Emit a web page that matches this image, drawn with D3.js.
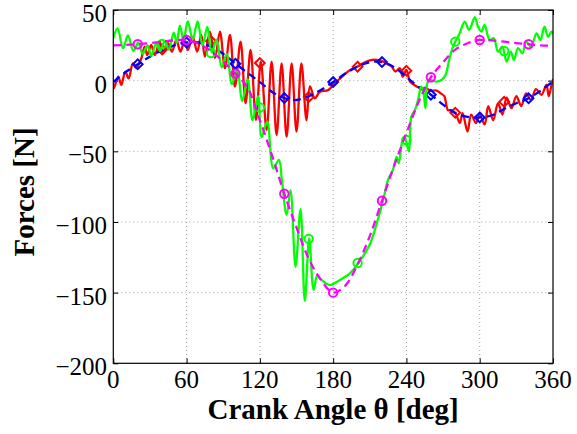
<!DOCTYPE html>
<html><head><meta charset="utf-8">
<script src="https://cdn.jsdelivr.net/npm/d3@7/dist/d3.min.js"></script>
<style>
html,body{margin:0;padding:0;background:#fff;}
svg{display:block;font-family:"Liberation Serif","Times New Roman",serif;}
</style></head>
<body>
<svg id="chart" width="577" height="434"></svg>
<script>
// ---------- data ----------
const xTicks = [0, 60, 120, 180, 240, 300, 360];
const yTicks = [-200, -150, -100, -50, 0, 50];
const xLabel = "Crank Angle \u03b8 [deg]";
const yLabel = "Forces [N]";

// measured force 1 (red, oscillating)
const redX = [0,0.5,4,6.6,9.8,12.6,16,18.8,23,25.7,27.8,31,34,38,40.7,44.8,48,51.6,55,58.4,61,65,68.7,72,75,79.1,83.2,87.3,91.4,95.5,99.6,104.2,108.3,112.4,116.8,120.8,125.5,129.6,133.7,137.8,141.9,146,150,154,158.2,161,165,169,176,180,185,190,195,200,206,212,217,221,225,228,231,234.6,237,240,243,248,252,256,260,264.6,268,271,274,277,280,283.7,286,290,293,297,300,304,307,311,315,318.6,322,326,330,334,338,342,346,350.5,354.6,356.6,359.7,360];
const redY = [-4,-5.4,2.8,-3,6.4,1.6,12.3,8.8,15.9,24,18,25.3,18,27.6,19.4,26.5,20.5,28.8,20.5,28.8,21.7,31,20.5,32.4,17,34.7,15.9,34.7,8.8,32.4,-4.2,27.6,-16,21.7,-27.8,13.5,-35,13.5,-38.5,12.3,-39.7,12.3,-36,12.3,-28,-4,-12.5,-8,-6.6,-3,1,5,8,10,13,14.7,14.5,13.5,11.5,9.9,6.5,8.8,2.8,7.6,-0.7,-4,-5.5,-5.4,-7,-7,-9,-11,-20.8,-21,-22.7,-30,-23,-36,-24,-30,-24,-31,-18,-28,-16,-24,-12,-19.5,-11,-18,-9,-13.7,-6,-10,-3,-11,0.5,0];
const redMarkX = [40, 80, 120, 160, 200, 240, 280, 320];
const redMarkY = [22, 28, 12.5, -11.6, 9.9, 7, -22.7, -15];

// model force 1 (blue, dashed)
const blueX = [0,10,20,30,40,50,60,70,80,90,100,110,120,130,140,150,160,170,180,190,200,210,220,230,240,250,260,270,280,290,300,310,320,330,340,350,360];
const blueY = [-1,6,11.6,17,21.5,25,27,27,24,19,12,5.5,-1,-8,-12.3,-13.7,-11,-6.6,-1,5,10,13,13.2,9.5,2.5,-4.5,-10,-17,-23,-25.7,-26,-24.5,-20,-16,-12.5,-7,-0.5];

// measured force 2 (green, oscillating)
const greenX = [0,3.5,8,12,16.5,20.5,24,28,31,35,38.5,42,45.5,49.5,52,54.5,57.5,61,65,69,73,77,80.5,84.6,88.7,93,97,101.5,105.5,110,114,118.5,121.5,126,131,135.6,138,141.9,145.1,149.2,153.3,156.8,160.4,164,167,170.5,177.3,182.8,193.7,200.7,210,215,221,225,229,232,233.7,236.8,238.5,242,244,247,249.5,252,253.6,255.6,257,259,264.6,268.7,272,275,277.7,280,283.6,287.7,291.3,296,298.6,301.4,304,308,311.5,315,318.5,322,325.4,328,331.4,335,338,342,346.5,349.7,353,356,358.7,360];
const greenY = [30,37,23,32,21,27,19,25,17.5,26,21,28,22,34,27,39,29,42,29,42,25,38,20,29,9.5,19,-2.5,7.6,-14.5,1,-28,-11,-40,-29,-62,-56,-70,-95,-77.4,-131.7,-91,-156,-111.6,-148,-138,-141,-144.7,-142.4,-136.4,-129,-116,-103,-84.5,-70,-63,-54,-58.5,-42,-40,-50,-25.5,-20.8,-13.7,-4.2,-6.6,-19.5,-1.9,0.5,-0.7,0.5,4,14.7,23,27.6,33.5,41.8,35.9,44.9,38.2,34.7,39.4,28.8,30,20.5,24,13.5,20.5,14.7,23,19.4,27.6,24,33.5,28.8,38.2,31,34.7,33];
const greenMarkX = [40, 80, 120, 160, 200, 240, 280, 320];
const greenMarkY = [26, 19.5, -19, -112, -129, -42, 27.6, 21];

// model force 2 (magenta, dashed)
const magX = [0,10,20,30,40,50,60,70,80,90,100,110,120,130,140,150,160,170,180,190,200,210,220,230,240,250,260,270,280,290,300,310,320,330,340,350,360];
const magY = [25,25.3,25.8,26.5,27.6,28.5,28.8,26,21,13.5,5,-5,-28,-53,-80,-104,-126,-141,-150,-145,-130,-110,-85,-60,-37,-15,2.4,13,22,26.5,28.8,28.5,27.6,26.5,25.8,25,24.8];

const markAngles = [20, 60, 100, 140, 180, 220, 260, 300, 340];

// ---------- layout ----------
const L = 113.3, R = 553, T = 10, B = 363.3;
const svg = d3.select("#chart");
const x = d3.scaleLinear().domain([0, 360]).range([L, R]);
const y = d3.scaleLinear().domain([-200, 50]).range([B, T]);

// grid
const grid = svg.append("g").attr("stroke", "#a0a0a0").attr("stroke-width", 1).attr("stroke-dasharray", "1,3");
xTicks.slice(1, -1).forEach(v => grid.append("line").attr("x1", x(v)).attr("x2", x(v)).attr("y1", T).attr("y2", B));
yTicks.slice(1, -1).forEach(v => grid.append("line").attr("x1", L).attr("x2", R).attr("y1", y(v)).attr("y2", y(v)));

// axes (inward ticks, box)
const tk = 5;
svg.append("g").attr("transform", `translate(0,${B})`)
  .call(d3.axisBottom(x).tickValues(xTicks).tickSizeInner(-tk).tickSizeOuter(0).tickFormat(""))
  .call(g => g.select(".domain").remove());
svg.append("g").attr("transform", `translate(0,${T})`)
  .call(d3.axisTop(x).tickValues(xTicks).tickSizeInner(-tk).tickSizeOuter(0).tickFormat(""))
  .call(g => g.select(".domain").remove());
svg.append("g").attr("transform", `translate(${L},0)`)
  .call(d3.axisLeft(y).tickValues(yTicks).tickSizeInner(-tk).tickSizeOuter(0).tickFormat(""))
  .call(g => g.select(".domain").remove());
svg.append("g").attr("transform", `translate(${R},0)`)
  .call(d3.axisRight(y).tickValues(yTicks).tickSizeInner(-tk).tickSizeOuter(0).tickFormat(""))
  .call(g => g.select(".domain").remove());
svg.selectAll(".tick line").attr("stroke", "#000");

// clip
svg.append("clipPath").attr("id", "clip").append("rect")
  .attr("x", L).attr("y", T).attr("width", R - L).attr("height", B - T);
const plot = svg.append("g").attr("clip-path", "url(#clip)");

const lineOsc = d3.line().x(d => x(d[0])).y(d => y(d[1])).curve(d3.curveCatmullRom.alpha(0.5));
const lineSmooth = d3.line().x(d => x(d[0])).y(d => y(d[1])).curve(d3.curveCatmullRom.alpha(0.5));

const zip = (a, b) => a.map((v, i) => [v, b[i]]);
const red = zip(redX, redY), green = zip(greenX, greenY), blue = zip(blueX, blueY), mag = zip(magX, magY);

function diamonds(pts, color) {
  plot.append("g").selectAll("path").data(pts).join("path")
    .attr("d", d3.symbol().type(d3.symbolDiamond2).size(60))
    .attr("transform", d => `translate(${x(d[0])},${y(d[1])})`)
    .attr("fill", "none").attr("stroke", color).attr("stroke-width", 2);
}
function circles(pts, color) {
  plot.append("g").selectAll("circle").data(pts).join("circle")
    .attr("cx", d => x(d[0])).attr("cy", d => y(d[1])).attr("r", 4.2)
    .attr("fill", "none").attr("stroke", color).attr("stroke-width", 2);
}

const LW = 2.3;
plot.append("path").datum(red).attr("d", lineOsc).attr("fill", "none").attr("stroke", "#ff0000").attr("stroke-width", LW);
diamonds(zip(redMarkX, redMarkY), "#ff0000");
plot.append("path").datum(blue).attr("d", lineSmooth).attr("fill", "none").attr("stroke", "#0000ff").attr("stroke-width", LW).attr("stroke-dasharray", "8,5");
diamonds(blue.filter(d => markAngles.includes(d[0])), "#0000ff");
plot.append("path").datum(green).attr("d", lineOsc).attr("fill", "none").attr("stroke", "#00ff00").attr("stroke-width", LW);
circles(zip(greenMarkX, greenMarkY), "#00ff00");
plot.append("path").datum(mag).attr("d", lineSmooth).attr("fill", "none").attr("stroke", "#ff00ff").attr("stroke-width", LW).attr("stroke-dasharray", "8,5");
circles(mag.filter(d => markAngles.includes(d[0])), "#ff00ff");

// box
svg.append("rect").attr("x", L).attr("y", T).attr("width", R - L).attr("height", B - T)
  .attr("fill", "none").attr("stroke", "#000").attr("stroke-width", 1.2);

// tick labels
svg.append("g").selectAll("text").data(xTicks).join("text")
  .attr("x", d => x(d)).attr("y", 388).attr("text-anchor", "middle")
  .attr("font-size", 25).text(d => d);
svg.append("g").selectAll("text").data(yTicks).join("text")
  .attr("x", 107).attr("y", d => y(d) + 12).attr("text-anchor", "end")
  .attr("font-size", 25).text(d => d < 0 ? "\u2212" + Math.abs(d) : d);

// axis titles
svg.append("text").attr("x", (L + R) / 2).attr("y", 419).attr("text-anchor", "middle")
  .attr("font-size", 29).attr("font-weight", "bold").text(xLabel);
svg.append("text").attr("transform", "translate(34,192) rotate(-90)").attr("text-anchor", "middle")
  .attr("font-size", 29).attr("font-weight", "bold").text(yLabel);
</script>
</body></html>
